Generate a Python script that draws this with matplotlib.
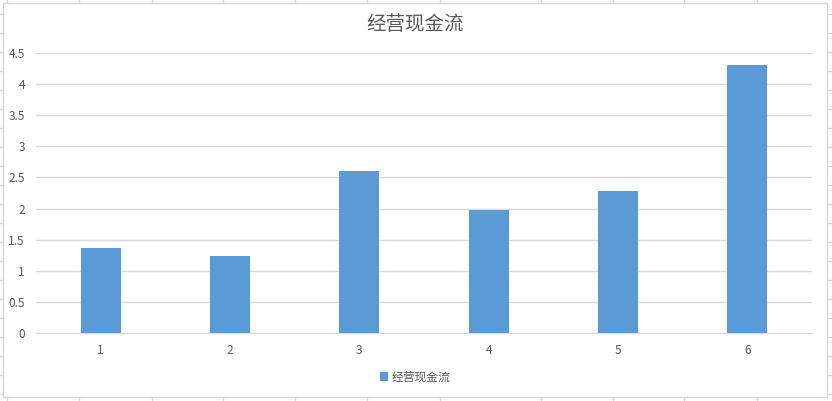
import matplotlib
matplotlib.use('Agg')
import matplotlib.pyplot as plt
from matplotlib.lines import Line2D
from matplotlib.patches import Rectangle

plt.rcParams['font.family'] = ['Noto Sans CJK SC', 'DejaVu Sans']

# data
categories = ['1', '2', '3', '4', '5', '6']
values = [1.36, 1.23, 2.61, 1.98, 2.29, 4.30]
series_name = '经营现金流'
yticks = [0, 0.5, 1, 1.5, 2, 2.5, 3, 3.5, 4, 4.5]
ytick_labels = ['0', '0.5', '1', '1.5', '2', '2.5', '3', '3.5', '4', '4.5']

W, H = 832, 401
fig = plt.figure(figsize=(W / 100, H / 100), dpi=100)
fig.patch.set_facecolor('white')

# spreadsheet cell lines peeking around the chart
cell = '#D4D7DE'
for x in [7, 79, 152, 223, 295, 367, 440, 541, 613, 684, 757]:
    fig.add_artist(Line2D([x / W, x / W], [1 - 0 / H, 1 - 3 / H], color=cell, lw=1))
    fig.add_artist(Line2D([x / W, x / W], [1 - 397 / H, 1 - 401 / H], color=cell, lw=1))
for y in range(14, 400, 19):
    fig.add_artist(Line2D([0, 3 / W], [1 - y / H, 1 - y / H], color=cell, lw=1))
    fig.add_artist(Line2D([827 / W, 1], [1 - y / H, 1 - y / H], color=cell, lw=1))
fig.add_artist(Rectangle((3 / W, 4 / H), 824 / W, 394 / H, fill=False,
                         edgecolor=cell, lw=1))

ax = fig.add_axes([36 / W, 1 - 333 / H, (812 - 36) / W, (333 - 53) / H])
x = range(len(categories))
bars = ax.bar(x, values, width=0.31, color='#5B9BD5', label=series_name, zorder=3)

ax.set_xlim(-0.5, len(categories) - 0.5)
ax.set_ylim(0, 4.5)
ax.set_xticks(list(x))
ax.set_xticklabels(categories)
ax.set_yticks(yticks)
ax.set_yticklabels(ytick_labels)
ax.tick_params(axis='both', length=0, labelsize=8.5, colors='#595959')
ax.tick_params(axis='x', pad=8)
ax.tick_params(axis='y', pad=8)

ax.grid(axis='y', color='#D9D9D9', lw=1, zorder=0)
for side in ['top', 'right', 'left']:
    ax.spines[side].set_visible(False)
ax.spines['bottom'].set_color('#D9D9D9')

fig.text(415 / W, 1 - 24 / H, series_name, ha='center', va='center',
         fontsize=14, color='#595959')

fig.legend(handles=[bars], labels=[series_name], loc='center',
           bbox_to_anchor=(415 / W, 1 - 377 / H), frameon=False, fontsize=8.5,
           handlelength=0.7, handleheight=0.7, handletextpad=0.3,
           labelcolor='#595959')

fig.savefig('out.png', dpi=100, facecolor='white')
